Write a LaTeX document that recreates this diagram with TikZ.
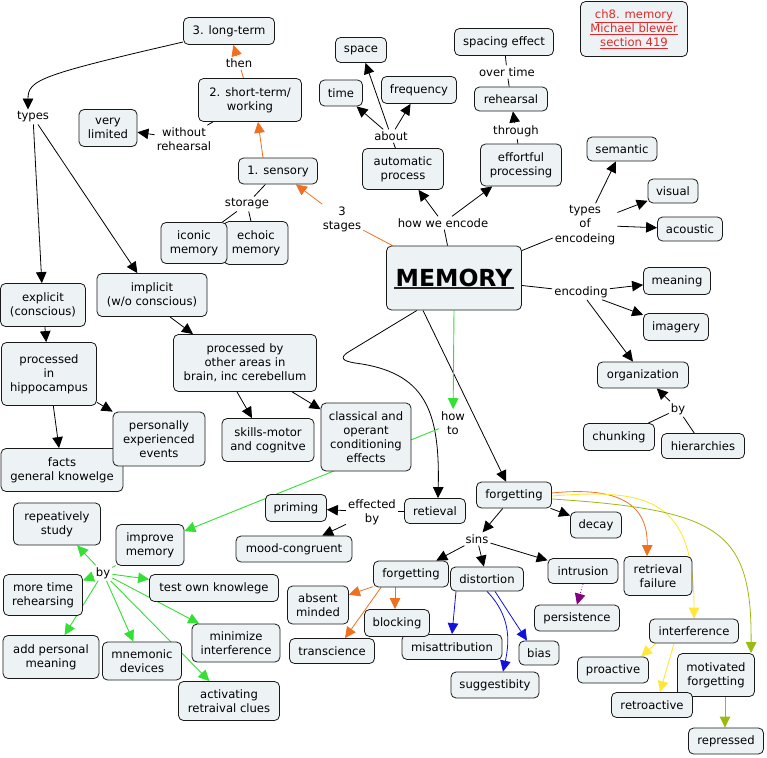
\documentclass[tikz,border=0pt]{standalone}
\usepackage{fontspec}
\setmainfont{DejaVu Sans}
\usetikzlibrary{arrows.meta,backgrounds}
\definecolor{boxfill}{HTML}{EDF3F5}
\definecolor{orng}{HTML}{F07020}
\definecolor{grn}{HTML}{33E033}
\definecolor{yel}{HTML}{FFE83A}
\definecolor{ygr}{HTML}{99BB11}
\definecolor{blu}{HTML}{1010E0}
\definecolor{pur}{HTML}{800080}
\definecolor{refred}{HTML}{E02828}
\newcommand{\mfs}{\fontsize{11.6}{14.2}\selectfont}
\tikzset{
  cbox/.style={draw=black!90, fill=boxfill, rounded corners=5pt, line width=0.8pt, align=center, inner sep=2pt, font=\mfs},
  sz/.style 2 args={minimum width=#1pt, minimum height=#2pt},
  lbl/.style={inner sep=2pt, align=center, font=\mfs},
  tip/.style={-{Triangle[length=11pt,width=10.5pt]}},
  ln/.style={line width=0.8pt, black},
  ar/.style={ln, tip},
  orln/.style={line width=0.8pt, orng},
  orar/.style={orln, tip},
  grln/.style={line width=0.9pt, grn},
  grar/.style={grln, tip},
  year/.style={line width=0.9pt, yel, tip},
  ygar/.style={line width=0.8pt, ygr, tip},
  blar/.style={line width=0.8pt, blu, tip},
  puar/.style={line width=0.8pt, pur, tip},
}
\begin{document}
\begin{tikzpicture}[x=1pt,y=-1pt]
\useasboundingbox (0,0) rectangle (767,757);

% concepts
\node[cbox, sz={91}{27}] (lt) at (229,31) {3. long-term};
\node[cbox, sz={103}{43}] (st) at (250,100) {2. short-term/\\working};
\node[cbox, sz={58}{37}] (vl) at (108,128) {very\\limited};
\node[cbox, sz={79}{26}] (sen) at (278,171) {1. sensory};
\node[cbox, sz={64}{43}] (ech) at (256,243) {echoic\\memory};
\node[cbox, sz={66}{41}] (ico) at (194,243) {iconic\\memory};
\node[cbox, sz={51}{25}] (spc) at (361,50) {space};
\node[cbox, sz={43}{26}] (tim) at (341,93) {time};
\node[cbox, sz={75}{27}] (frq) at (419,90) {frequency};
\node[cbox, sz={81}{41}] (aut) at (403,169) {automatic\\process};
\node[cbox, sz={99}{27}] (spe) at (504,42) {spacing effect};
\node[cbox, sz={73}{24}] (reh) at (511,99) {rehearsal};
\node[cbox, sz={81}{42}] (eff) at (521,165) {effortful\\processing};
\node[cbox, sz={107}{55}, text=refred] (ref) at (634,29) {\underline{ch8. memory}\\\underline{Michael blewer}\\\underline{section 419}};
\node[cbox, sz={70}{24}] (sem) at (622,149) {semantic};
\node[cbox, sz={50}{24}] (vis) at (673,191) {visual};
\node[cbox, sz={65}{24}] (aco) at (690,229) {acoustic};
\node[cbox, sz={135}{64}, font=\fontsize{23.5}{28}\selectfont\bfseries] (mem) at (454,278) {MEMORY};
\draw[line width=1.6pt, black!85] ([xshift=-60pt,yshift=-10pt]mem.center) -- ([xshift=60pt,yshift=-10pt]mem.center);
\node[cbox, sz={67}{27}] (mea) at (677,281) {meaning};
\node[cbox, sz={65}{27}] (img) at (676,327) {imagery};
\node[cbox, sz={91}{26}] (org) at (643,375) {organization};
\node[cbox, sz={71}{27}] (chu) at (619,437) {chunking};
\node[cbox, sz={83}{25}] (hie) at (703,446) {hierarchies};
\node[cbox, sz={85}{43}] (exp) at (43,305) {explicit\\(conscious)};
\node[cbox, sz={110}{43}] (imp) at (152,295) {implicit\\(w/o conscious)};
\node[cbox, sz={95}{63}] (hip) at (49,374) {processed\\in\\hippocampus};
\node[cbox, sz={143}{57}] (oth) at (245,363) {processed by\\other areas in\\brain, inc cerebellum};
\node[cbox, sz={122}{43}] (fac) at (62,470) {facts\\general knowelge};
\node[cbox, sz={92}{54}] (per) at (159,439) {personally\\experienced\\events};
\node[cbox, sz={92}{43}] (ski) at (268,440) {skills-motor\\and cognitve};
\node[cbox, sz={90}{68}] (cla) at (366,437) {classical and\\operant\\conditioning\\effects};
\node[cbox, sz={87}{42}] (rep) at (57,524) {repeatively\\study};
\node[cbox, sz={68}{41}] (imm) at (150,545) {improve\\memory};
\node[cbox, sz={79}{41}] (mtr) at (43,595) {more time\\rehearsing};
\node[cbox, sz={129}{27}] (tok) at (214,588) {test own knowlege};
\node[cbox, sz={96}{43}] (apm) at (51,657) {add personal\\meaning};
\node[cbox, sz={79}{38}] (mne) at (142,661) {mnemonic\\devices};
\node[cbox, sz={88}{38}] (min) at (236,643) {minimize\\interference};
\node[cbox, sz={101}{39}] (act) at (229,701) {activating\\retraival clues};
\node[cbox, sz={61}{27}] (pri) at (296,508) {priming};
\node[cbox, sz={116}{26}] (moo) at (294,549) {mood-congruent};
\node[cbox, sz={61}{25}] (ret) at (435,511) {retieval};
\node[cbox, sz={75}{26}] (fg1) at (514,495) {forgetting};
\node[cbox, sz={51}{26}] (dec) at (596,525) {decay};
\node[cbox, sz={75}{26}] (fg2) at (411,574) {forgetting};
\node[cbox, sz={73}{24}] (dis) at (487,579) {distortion};
\node[cbox, sz={70}{25}] (int) at (583,571) {intrusion};
\node[cbox, sz={68}{39}] (rfl) at (658,576) {retrieval\\failure};
\node[cbox, sz={61}{38}] (abs) at (318,605) {absent\\minded};
\node[cbox, sz={100}{25}] (mis) at (452,647) {misattribution};
\node[cbox, sz={65}{27}] (blo) at (397,623) {blocking};
\node[cbox, sz={85}{25}] (tra) at (332,651) {transcience};
\node[cbox, sz={40}{24}] (bia) at (539,653) {bias};
\node[cbox, sz={88}{26}] (sug) at (495,685) {suggestibity};
\node[cbox, sz={85}{26}] (pst) at (577,618) {persistence};
\node[cbox, sz={89}{24}] (ifr) at (694,631) {interference};
\node[cbox, sz={71}{26}] (pro) at (613,670) {proactive};
\node[cbox, sz={77}{43}] (mot) at (716,675) {motivated\\forgetting};
\node[cbox, sz={81}{25}] (rtr) at (652,705) {retroactive};
\node[cbox, sz={75}{26}] (rpr) at (726,741) {repressed};

% linking phrases
\node[lbl] (ltypes) at (33,117) {types};
\node[lbl] (lthen) at (239,63) {then};
\node[lbl] (lwo) at (184,139) {without\\rehearsal};
\node[lbl] (lsto) at (247,204) {storage};
\node[lbl] (l3s) at (342,219) {3\\stages};
\node[lbl] (labo) at (391,136) {about};
\node[lbl] (lhow) at (443,223) {how we encode};
\node[lbl] (lovt) at (507,72) {over time};
\node[lbl] (lthr) at (516,131) {through};
\node[lbl] (ltoe) at (585,225) {types\\of\\encodeing};
\node[lbl] (lenc) at (581,292) {encoding};
\node[lbl] (lby1) at (678,409) {by};
\node[lbl] (lhowto) at (453,423) {how\\to};
\node[lbl] (leff) at (372,512) {effected\\by};
\node[lbl] (lsins) at (477,539) {sins};
\node[lbl] (lby2) at (103,573) {by};

\begin{scope}[on background layer]
% stages
\draw[orln] (mem) -- (l3s);
\draw[orar] (l3s) -- (sen);
\draw[orar] ([xshift=-15pt]sen.north) -- ([xshift=8pt]st.south);
\draw[orln] (st) -- (lthen);
\draw[orar] (lthen) -- (lt);
\draw[ln] (st) -- (lwo);
\draw[ar] (lwo) -- (vl);
\draw[ar] ([yshift=-11pt]lt.west) .. controls (40,75) and (28,80) .. ([xshift=-5pt]ltypes.north);
\draw[ar] (ltypes) -- (exp);
\draw[ar] (ltypes) -- (imp);
\draw[ln] (sen) -- (lsto);
\draw[ln] (lsto) -- (ico);
\draw[ln] (lsto) -- (ech);
% encoding
\draw[ln] (mem) -- (lhow);
\draw[ar] (lhow) -- (aut);
\draw[ar] (lhow) -- (eff);
\draw[ln] (aut) -- (labo);
\draw[ar] (labo) -- (tim);
\draw[ar] (labo) -- (spc);
\draw[ar] (labo) -- (frq);
\draw[ln] (eff) -- (lthr);
\draw[ar] (lthr) -- (reh);
\draw[ln] (reh) -- (lovt);
\draw[ln] (lovt) -- (spe);
\draw[ln] (mem) -- (ltoe);
\draw[ar] (ltoe) -- (sem);
\draw[ar] (ltoe) -- (vis);
\draw[ar] (ltoe) -- (aco);
\draw[ln] (mem) -- (lenc);
\draw[ar] (lenc) -- (mea);
\draw[ar] (lenc) -- (img);
\draw[ar] (lenc) -- (org);
\draw[ln] (chu) -- (lby1);
\draw[ln] (hie) -- (lby1);
\draw[ar] (lby1) -- (org);
% types
\draw[ar] (exp) -- (hip);
\draw[ar] (hip) -- (per);
\draw[ar] (hip) -- (fac);
\draw[ar] ([xshift=18pt]imp.south) -- ([xshift=-52pt]oth.north);
\draw[ar] ([xshift=-8pt]oth.south) -- ([xshift=-16pt]ski.north);
\draw[ar] (oth) -- (cla);
% retrieval
\draw[ar] ([xshift=-37pt]mem.south) -- (350,351) .. controls (338,358) and (343,361) .. (355,363) .. controls (425,372) and (440,410) .. ([xshift=3pt]ret.north);
\draw[ln] (ret) -- (leff);
\draw[ar] (leff) -- (pri);
\draw[ar] (leff) -- (moo);
% forgetting
\draw[ar] ([xshift=-31pt]mem.south) -- ([xshift=-8pt]fg1.north);
\draw[ar] (fg1) -- (lsins);
\draw[ar] (lsins) -- (fg2);
\draw[ar] (lsins) -- (dis);
\draw[ar] (lsins) -- (int);
\draw[ar] (fg1) -- (dec);
\draw[orar] ([yshift=2pt]fg1.east) .. controls (620,486) and (648,505) .. ([xshift=-11pt]rfl.north);
\draw[year] ([yshift=-1pt]fg1.east) .. controls (650,488) and (694,500) .. (ifr.north);
\draw[ygar] ([yshift=-4pt]fg1.east) .. controls (720,510) and (752,530) .. ([xshift=35pt]mot.north);
\draw[orar] (fg2) -- (abs);
\draw[orar] ([xshift=-16pt]fg2.south) -- ([xshift=-2pt]blo.north);
\draw[orar] ([xshift=-30pt]fg2.south) -- ([xshift=13pt]tra.north);
\draw[blar] ([xshift=-31pt]dis.south) -- (mis.north);
\draw[blar] (dis.south) .. controls (510,615) and (510,640) .. ([xshift=8pt]sug.north);
\draw[blar] ([xshift=8pt]dis.south) -- ([xshift=-12pt]bia.north);
\draw[puar, dotted] (int.south) -- (pst.north);
\draw[year] ([xshift=-38pt]ifr.south) -- ([xshift=28pt]pro.north);
\draw[year] ([xshift=-20pt]ifr.south) -- ([xshift=8pt]rtr.north);
\draw[ygar] ([xshift=9pt]mot.south) -- ([xshift=-1pt]rpr.north);
% how to
\draw[grar] (mem.south) -- (lhowto);
\draw[grar] (lhowto) -- (imm);
\draw[grln] (imm) -- (lby2);
\draw[grar] (lby2) -- (rep);
\draw[grar] (lby2) -- (mtr);
\draw[grar] (lby2) -- (apm);
\draw[grar] (lby2) -- (mne);
\draw[grar] (lby2) -- (act);
\draw[grar] (lby2) -- (min);
\draw[grar] (lby2) -- (tok);
\end{scope}
\end{tikzpicture}
\end{document}
